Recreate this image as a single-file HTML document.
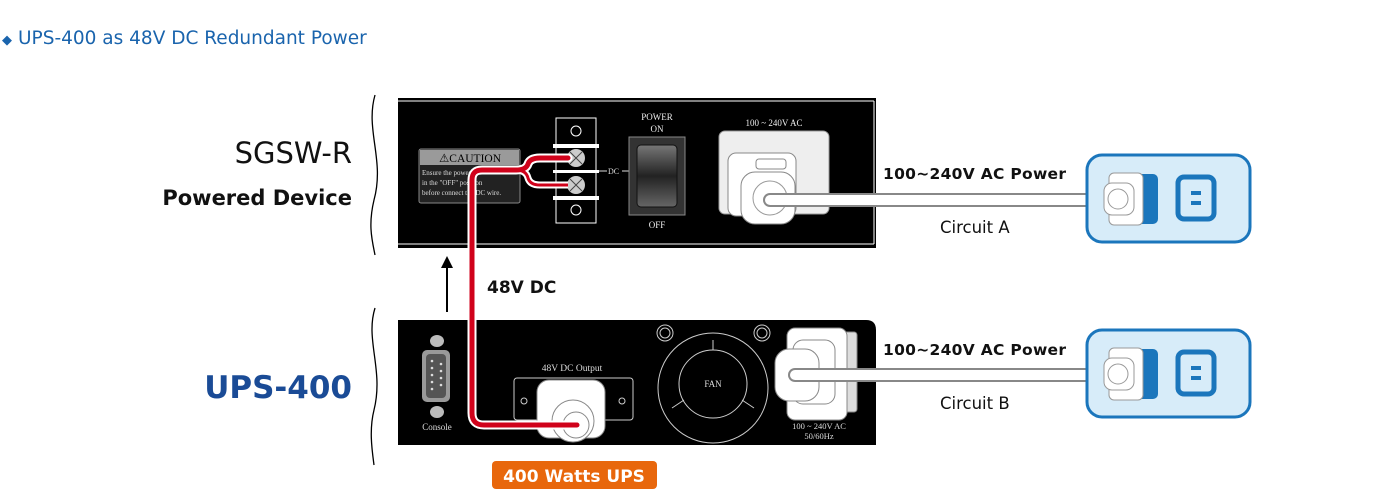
<!DOCTYPE html>
<html><head><meta charset="utf-8"><style>
html,body{margin:0;padding:0;background:#fff;width:1400px;height:490px;overflow:hidden}
svg text{font-family:"DejaVu Sans","Liberation Sans",sans-serif}
svg text.s{font-family:"Liberation Serif",serif}
</style></head><body>
<svg width="1400" height="490" viewBox="0 0 1400 490" xmlns="http://www.w3.org/2000/svg">
<text x="2" y="44" font-size="13" fill="#1a64ad">◆</text>
<text x="18" y="44" font-size="18.5" fill="#1a64ad">UPS-400 as 48V DC Redundant Power</text>

<text x="352" y="163" font-size="29" fill="#111" text-anchor="end">SGSW-R</text>
<text x="352" y="205" font-size="21" font-weight="bold" fill="#111" text-anchor="end">Powered Device</text>
<text x="352" y="398" font-size="31" font-weight="bold" fill="#1a4b96" text-anchor="end">UPS-400</text>

<path d="M375 95 C365 130,385 160,374 200 C368 225,372 240,375 255" stroke="#000" fill="none" stroke-width="1.3"/>
<path d="M375 308 C365 340,384 370,374 410 C369 430,372 450,374 465" stroke="#000" fill="none" stroke-width="1.3"/>

<rect x="398" y="98" width="478" height="150" fill="#000"/>
<path d="M398 101 H874 M398 244 H874 M874 101 V244" stroke="#fff" stroke-width="1" fill="none"/>
<rect x="419" y="149" width="101" height="54" rx="2" fill="#222" stroke="#888"/>
<rect x="420" y="150" width="99" height="15" fill="#9a9a9a"/>
<text x="470" y="162" font-size="11.5" fill="#000" text-anchor="middle" class="s">⚠CAUTION</text>
<text x="422" y="175" font-size="7" fill="#ddd" class="s">Ensure the power is</text>
<text x="422" y="185" font-size="7" fill="#ddd" class="s">in the "OFF" position</text>
<text x="422" y="195" font-size="7" fill="#ddd" class="s">before connect the DC wire.</text>
<rect x="556" y="118" width="40" height="105" fill="#000" stroke="#fff"/>
<circle cx="576" cy="131" r="5" fill="none" stroke="#fff"/>
<circle cx="576" cy="210" r="5" fill="none" stroke="#fff"/>
<rect x="553" y="144" width="46" height="4" fill="#fff"/>
<rect x="553" y="170" width="46" height="3" fill="#fff"/>
<rect x="553" y="196" width="46" height="4" fill="#fff"/>
<circle cx="576" cy="158" r="9" fill="#ccc"/><path d="M570 152 L582 164 M582 152 L570 164" stroke="#444"/>
<circle cx="576" cy="185" r="9" fill="#ccc"/><path d="M570 179 L582 191 M582 179 L570 191" stroke="#444"/>
<text x="608" y="174" font-size="8" fill="#ddd" class="s">DC</text>
<path d="M599 171 H607 M622 171 H630" stroke="#ddd"/>
<text x="657" y="120" font-size="9" fill="#eee" text-anchor="middle" class="s">POWER</text>
<text x="657" y="132" font-size="9" fill="#eee" text-anchor="middle" class="s">ON</text>
<rect x="629" y="137" width="56" height="78" fill="#333" stroke="#888"/>
<defs><linearGradient id="sw" x1="0" y1="0" x2="0" y2="1"><stop offset="0" stop-color="#777"/><stop offset="0.5" stop-color="#222"/><stop offset="1" stop-color="#666"/></linearGradient></defs>
<rect x="637" y="145" width="40" height="62" rx="4" fill="url(#sw)" stroke="#111"/>
<text x="657" y="228" font-size="9" fill="#eee" text-anchor="middle" class="s">OFF</text>
<text x="774" y="126" font-size="9" fill="#eee" text-anchor="middle" class="s">100 ~ 240V AC</text>
<rect x="719" y="131" width="110" height="83" rx="6" fill="#eee" stroke="#999"/>
<rect x="728" y="153" width="68" height="63" rx="8" fill="#fff" stroke="#888"/>
<rect x="756" y="159" width="30" height="10" rx="3" fill="#fff" stroke="#888"/>
<rect x="741" y="172" width="54" height="52" rx="14" fill="#fff" stroke="#888"/>
<circle cx="770" cy="198" r="17" fill="#fff" stroke="#999"/>
<path d="M770 200 H1120" stroke="#888" stroke-width="14" stroke-linecap="round"/>
<path d="M770 200 H1120" stroke="#fff" stroke-width="10" stroke-linecap="round"/>

<path d="M398 320 H866 Q876 320 876 330 V445 H398 Z" fill="#000"/>
<ellipse cx="437" cy="341" rx="7" ry="6" fill="#bbb"/>
<rect x="422" y="350" width="28" height="52" rx="5" fill="#999"/>
<rect x="426" y="354" width="20" height="44" rx="4" fill="#555"/>
<g fill="#ddd"><circle cx="432" cy="361" r="1.3"/><circle cx="432" cy="368" r="1.3"/><circle cx="432" cy="375" r="1.3"/><circle cx="432" cy="382" r="1.3"/><circle cx="441" cy="364" r="1.3"/><circle cx="441" cy="371" r="1.3"/><circle cx="441" cy="378" r="1.3"/><circle cx="441" cy="385" r="1.3"/><circle cx="432" cy="389" r="1.3"/></g>
<ellipse cx="437" cy="412" rx="7" ry="6" fill="#bbb"/>
<text x="437" y="430" font-size="9" fill="#ddd" text-anchor="middle" class="s">Console</text>
<text x="572" y="371" font-size="9.5" fill="#ddd" text-anchor="middle" class="s">48V DC Output</text>
<rect x="514" y="378" width="119" height="42" rx="3" fill="#000" stroke="#ccc"/>
<circle cx="524" cy="401" r="3" fill="none" stroke="#ccc"/><circle cx="622" cy="401" r="3" fill="none" stroke="#ccc"/>
<rect x="537" y="380" width="68" height="58" rx="12" fill="#fff" stroke="#888"/>
<circle cx="573" cy="421" r="21" fill="#fff" stroke="#888"/>
<circle cx="576" cy="425" r="13" fill="#fff" stroke="#888"/>
<circle cx="665" cy="333" r="8" fill="none" stroke="#ccc"/><circle cx="665" cy="333" r="5" fill="none" stroke="#ccc"/>
<circle cx="762" cy="333" r="8" fill="none" stroke="#ccc"/><circle cx="762" cy="333" r="5" fill="none" stroke="#ccc"/>
<circle cx="713" cy="388" r="55" fill="none" stroke="#ccc"/>
<circle cx="713" cy="384" r="34" fill="none" stroke="#ccc"/>
<path d="M713 350 V340 M684 400 L672 408 M742 400 L754 408" stroke="#ccc"/>
<text x="713" y="387" font-size="9" fill="#ddd" text-anchor="middle" class="s">FAN</text>
<rect x="835" y="332" width="22" height="80" rx="3" fill="#ddd" stroke="#888"/>
<rect x="787" y="328" width="60" height="92" rx="8" fill="#fff" stroke="#888"/>
<rect x="793" y="340" width="42" height="64" rx="10" fill="#fff" stroke="#888"/>
<rect x="775" y="349" width="44" height="52" rx="14" fill="#fff" stroke="#888"/>
<text x="819" y="429" font-size="8.5" fill="#ddd" text-anchor="middle" class="s">100 ~ 240V AC</text>
<text x="819" y="439" font-size="8.5" fill="#ddd" text-anchor="middle" class="s">50/60Hz</text>
<path d="M795 375 H1120" stroke="#888" stroke-width="14" stroke-linecap="round"/>
<path d="M795 375 H1120" stroke="#fff" stroke-width="10" stroke-linecap="round"/>

<path d="M568 158 H540 Q530 158 528 164 Q526 170 516 170 H482 Q472 170 472 180 V413 Q472 425 484 425 H577" stroke="#fff" stroke-width="9" fill="none" stroke-linecap="round"/>
<path d="M568 185 H540 Q530 185 528 178 Q526 170 516 170" stroke="#fff" stroke-width="7" fill="none"/>
<path d="M568 158 H540 Q530 158 528 164 Q526 170 516 170 H482 Q472 170 472 180 V413 Q472 425 484 425 H577" stroke="#d0021b" stroke-width="5" fill="none" stroke-linecap="round"/>
<path d="M568 185 H540 Q530 185 528 178 Q526 170 516 170" stroke="#d0021b" stroke-width="3" fill="none"/>
<path d="M568 158 H540 Q530 158 528 164 Q526 170 516 170" stroke="#d0021b" stroke-width="3" fill="none"/>

<path d="M447 312 V266" stroke="#000" stroke-width="2"/>
<path d="M441 268 L447 256 L453 268 Z" fill="#000"/>
<text x="487" y="293" font-size="17" font-weight="bold" fill="#111">48V DC</text>

<text x="883" y="179" font-size="15.5" font-weight="bold" fill="#111" textLength="183">100~240V AC Power</text>
<text x="940" y="233" font-size="16.5" fill="#111">Circuit A</text>
<text x="883" y="355" font-size="15.5" font-weight="bold" fill="#111" textLength="183">100~240V AC Power</text>
<text x="940" y="409" font-size="16.5" fill="#111">Circuit B</text>

<g id="o">
<rect x="1087" y="155" width="163" height="87" rx="15" fill="#d7ecf9" stroke="#1b76bc" stroke-width="3"/>
<rect x="1130" y="174" width="28" height="50" rx="5" fill="#1b76bc"/>
<rect x="1109" y="173" width="34" height="52" rx="5" fill="#fff" stroke="#999"/>
<rect x="1104" y="183" width="30" height="32" rx="8" fill="#fff" stroke="#999"/>
<circle cx="1118" cy="199" r="10" fill="#fff" stroke="#999"/>
<rect x="1178" y="177" width="36" height="42" rx="6" fill="none" stroke="#1b76bc" stroke-width="5"/>
<rect x="1191" y="191" width="10" height="4" fill="#1b76bc"/>
<rect x="1191" y="201" width="10" height="4" fill="#1b76bc"/>
</g>
<use href="#o" transform="translate(0,175)"/>

<rect x="492" y="461" width="165" height="28" rx="4" fill="#e8670c"/>
<text x="574" y="482" font-size="17" font-weight="bold" fill="#fff" text-anchor="middle">400 Watts UPS</text>
</svg>
</body></html>
